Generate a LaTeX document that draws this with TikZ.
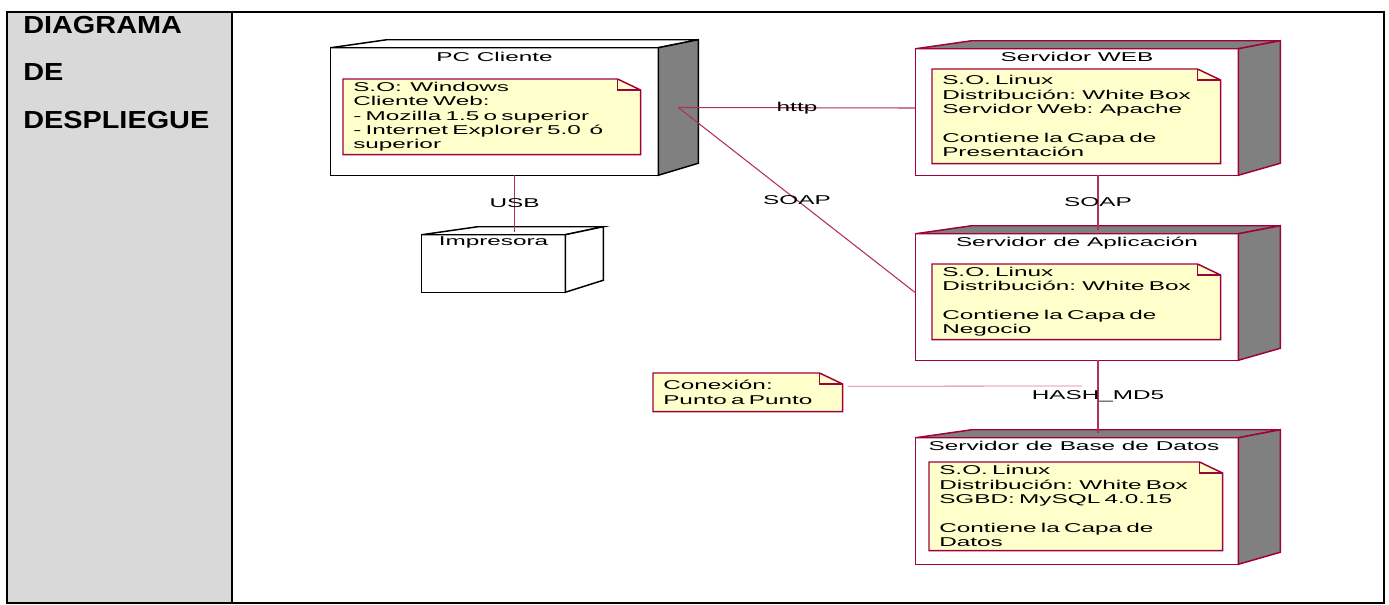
\documentclass[tikz,border=0pt]{standalone}
\usepackage{fontspec}
\usetikzlibrary{calc}
\newfontfamily\umlfont[FakeStretch=1.9]{Liberation Sans}
\newfontfamily\headfont[FakeStretch=1.17]{Liberation Sans Bold}
\newcommand\umltext{\umlfont\fontsize{9.6}{10.8}\selectfont}
\newcommand\headtext{\headfont\fontsize{18.5}{20}\selectfont}

\definecolor{umlred}{RGB}{160,0,60}
\definecolor{linkred}{RGB}{176,48,96}
\definecolor{sidegray}{RGB}{128,128,128}
\definecolor{notefill}{RGB}{255,255,204}
\definecolor{cellgray}{RGB}{217,217,217}
\definecolor{pinkline}{RGB}{214,120,150}

\pgfdeclarelayer{background}
\pgfsetlayers{background,main}

% device outline: #1 node, #2 line colour, #3 top fill, #4 side fill, #5 depth
\newcommand\devshape[5]{%
  \draw[#2, line width=1.1pt, line join=miter, fill=#3]
    ($(#1.north west)+(0,8)$) -- ($(#1.north west)+(56,0)$) -- (#1.north east)
    -- ($(#1.north east)+(-#5,8)$) -- cycle;
  \draw[#2, line width=1.1pt, line join=miter, fill=#4]
    ($(#1.north east)+(-#5,8)$) -- (#1.north east) -- ($(#1.south east)+(0,-12)$)
    -- ($(#1.south east)+(-#5,0)$) -- cycle;
  \draw[#2, line width=1.1pt]
    ($(#1.north west)+(0,8)$) rectangle ($(#1.south east)+(-#5,0)$);
}

% folded-corner note outline behind a note node
\newcommand\notefold[1]{%
  \begin{pgfonlayer}{background}
  \draw[umlred, line width=1.1pt, fill=notefill]
    (#1.north west) -- ($(#1.north east)+(-23,0)$) -- ($(#1.north east)+(0,11)$)
    -- (#1.south east) -- (#1.south west) -- cycle;
  \draw[umlred, line width=0.9pt]
    ($(#1.north east)+(-23,0)$) -- ($(#1.north east)+(-23,11)$) -- ($(#1.north east)+(0,11)$);
  \end{pgfonlayer}}

\tikzset{
  devbox/.style 2 args={draw=none, inner sep=0, minimum width=#1*0.75pt, minimum height=#2*0.75pt},
  devtitle/.style={inner sep=0, font=\umltext, text=black},
  notebox/.style={anchor=north west, inner xsep=7.5pt, inner ysep=0, align=left, font=\umltext, text=black},
  link/.style={draw=linkred, line width=0.8pt},
  linklabel/.style={inner sep=0, font=\umltext, text=black},
  headtxt/.style={anchor=base west, inner sep=0, font=\headtext, text=black},
}

\begin{document}
\begin{tikzpicture}[x=0.75pt, y=-0.75pt]
\useasboundingbox (0,0) rectangle (1389,604);

% table frame
\begin{pgfonlayer}{background}
  \fill[cellgray] (7,12) rectangle (232,603);
  \draw[line width=1.5pt] (7,603) -- (7,12) -- (1384,12) -- (1384,603) -- cycle;
  \draw[line width=1.5pt] (232,12) -- (232,603);
\end{pgfonlayer}
\node[headtxt] (h1) at (23,33) {DIAGRAMA};
\node[headtxt] (h2) at (23,80) {DE};
\node[headtxt] (h3) at (23,128) {DESPLIEGUE};

% devices (full boxes including depth)
\node[devbox={367}{135}] (pc) at (514.5,107.5) {};
\node[devbox={181}{65}] (printer) at (512.5,259.5) {};
\node[devbox={364}{134}] (web) at (1098,108) {};
\node[devbox={364}{134}] (app) at (1098,293) {};
\node[devbox={364}{134}] (db) at (1098,497) {};

\devshape{pc}{black}{white}{sidegray}{40}
\devshape{printer}{black}{white}{white}{38}
\devshape{web}{umlred}{sidegray}{sidegray}{42}
\devshape{app}{umlred}{sidegray}{sidegray}{42}
\devshape{db}{umlred}{sidegray}{sidegray}{42}

\node[devtitle] (pct) at ($(pc.north)+(-20,17)$) {PC Cliente};
\node[devtitle] (prt) at ($(printer.north)+(-19,16)$) {Impresora};
\node[devtitle] (webt) at ($(web.north)+(-21,16)$) {Servidor WEB};
\node[devtitle] (appt) at ($(app.north)+(-21,17)$) {Servidor de Aplicación};
\node[devtitle] (dbt) at ($(db.north)+(-24,16)$) {Servidor de Base de Datos};

% notes
\node[notebox, text width=207.75pt, minimum width=222.75pt, minimum height=56.25pt] (pcnote) at (343,79)
  {S.O:\ \ Windows\\Cliente Web:\\- Mozilla 1.5 o superior\\- Internet Explorer 5.0\ \ ó\\superior};
\node[notebox, text width=201pt, minimum width=216pt, minimum height=70.5pt] (webnote) at (932,69)
  {S.O. Linux\\Distribución: White Box\\Servidor Web: Apache\\[10.8pt]Contiene la Capa de\\Presentación};
\node[notebox, text width=201pt, minimum width=216pt, minimum height=56.25pt] (appnote) at (932,264)
  {S.O. Linux\\Distribución: White Box\\[10.8pt]Contiene la Capa de\\Negocio};
\node[notebox, text width=204.75pt, minimum width=219.75pt, minimum height=66pt] (dbnote) at (929,462)
  {S.O. Linux\\Distribución: White Box\\SGBD: MySQL 4.0.15\\[10.8pt]Contiene la Capa de\\Datos};
\node[notebox, text width=126.75pt, minimum width=141.75pt, minimum height=28.5pt] (conx) at (653,373)
  {Conexión:\\Punto a Punto};
\notefold{pcnote}
\notefold{webnote}
\notefold{appnote}
\notefold{dbnote}
\notefold{conx}

% connectors
\coordinate (pcport) at ($(pc.east)+(-20,0)$);
\draw[link] (pc.south) -- node[linklabel] {USB} ($(pc.south |- printer.north)+(0,5)$);
\draw[link] (pcport) -- node[linklabel] {http} (web.west);
\draw[link] (pcport) -- node[linklabel] {SOAP} (app.west);
\draw[link] (web.south) -- node[linklabel] {SOAP} ($(app.north)+(0,4)$);
\draw[link] (app.south) -- node[linklabel] {HASH\_MD5} ($(db.north)+(0,3)$);
\coordinate (hashpt) at ($($(app.south)!0.37!(db.north)$)+(-16,0)$);
\draw[pinkline, line width=0.6pt] ($(conx.east)+(5,-6)$) -- (hashpt);
\end{tikzpicture}
\end{document}
